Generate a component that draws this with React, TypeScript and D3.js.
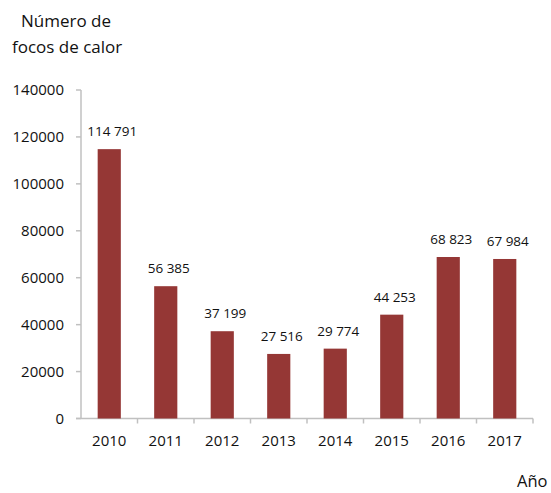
import React from "react";
import * as d3 from "d3";

const categories = ["2010", "2011", "2012", "2013", "2014", "2015", "2016", "2017"];
const values = [114791, 56385, 37199, 27516, 29774, 44253, 68823, 67984];
const dataLabels = ["114 791", "56 385", "37 199", "27 516", "29 774", "44 253", "68 823", "67 984"];
const yTicks = [0, 20000, 40000, 60000, 80000, 100000, 120000, 140000];

const W = 551;
const H = 493;
const left = 81;
const right = 533;
const top = 90;
const bottom = 418.5;
const font = "'Open Sans', sans-serif";

export default function App() {
  const x = d3.scaleBand<string>().domain(categories).range([left, right]).paddingInner(0.59).paddingOuter(0.295);
  const y = d3.scaleLinear().domain([0, 140000]).range([bottom, top]);
  const step = x.step();
  const axisColor = "#c0c0c0";
  return (
    <svg width={W} height={H} style={{ position: "absolute", left: 0, top: 0, background: "#fff" }}>
      <text x={21} y={27} fontFamily={font} fontSize={17} fill="#111">Número de</text>
      <text x={12} y={53} fontFamily={font} fontSize={17} fill="#111">focos de calor</text>
      {/* y axis */}
      <line x1={left} x2={left} y1={top} y2={bottom} stroke={axisColor} strokeWidth={1.5} />
      {yTicks.map((t) => (
        <g key={t}>
          <line x1={left - 5} x2={left} y1={y(t)} y2={y(t)} stroke={axisColor} strokeWidth={1.5} />
          <text x={64} y={y(t)} dy="0.35em" textAnchor="end" fontFamily={font} fontSize={15} fill="#111">
            {t}
          </text>
        </g>
      ))}
      {/* x axis */}
      <line x1={left - 5} x2={right} y1={bottom} y2={bottom} stroke={axisColor} strokeWidth={1.5} />
      {categories.map((c, i) => (
        <line key={"t" + c} x1={left + step * (i + 1)} x2={left + step * (i + 1)} y1={bottom} y2={bottom + 5} stroke={axisColor} strokeWidth={1.5} />
      ))}
      {categories.map((c, i) => {
        const bx = x(c) as number;
        const bw = x.bandwidth();
        return (
          <g key={c}>
            <rect x={bx} y={y(values[i])} width={bw} height={bottom - y(values[i])} fill="#953735" />
            <text x={bx + bw / 2 + 3} y={y(values[i]) - 13} textAnchor="middle" fontFamily={font} fontSize={13.5} fill="#111">
              {dataLabels[i]}
            </text>
            <text x={bx + bw / 2} y={446} textAnchor="middle" fontFamily={font} fontSize={15} fill="#111">
              {c}
            </text>
          </g>
        );
      })}
      <text x={517} y={487} fontFamily={font} fontSize={16.5} fill="#111">Año</text>
    </svg>
  );
}
